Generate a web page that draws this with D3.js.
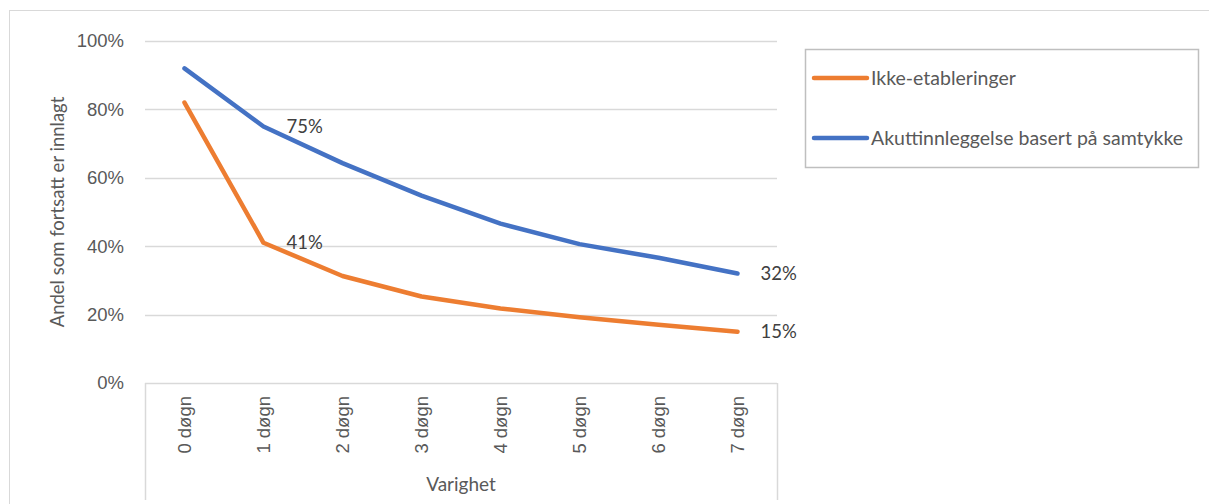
<!DOCTYPE html>
<html>
<head>
<meta charset="utf-8">
<script src="https://cdn.jsdelivr.net/npm/d3@7"></script>
<style>
  html, body { margin: 0; padding: 0; background: #fff; }
  svg { display: block; font-family: Lato, "Open Sans", sans-serif; }
</style>
</head>
<body>
<svg id="chart" width="1209" height="504"></svg>
<script>
// Kategorier og verdier (andel som fortsatt er innlagt)
const categories = ["0 døgn", "1 døgn", "2 døgn", "3 døgn", "4 døgn", "5 døgn", "6 døgn", "7 døgn"];
const ikkeEtableringer = [0.82, 0.41, 0.313, 0.253, 0.218, 0.192, 0.17, 0.15];
const akuttSamtykke = [0.92, 0.75, 0.643, 0.548, 0.466, 0.406, 0.366, 0.32];
const yTicks = [0, 0.2, 0.4, 0.6, 0.8, 1.0];
const seriesNames = ["Ikke-etableringer", "Akuttinnleggelse basert på samtykke"];
const seriesColors = ["#ED7D31", "#4472C4"];
// Indekser med dataetiketter
const labelled = [1, 7];

const svg = d3.select("#chart");
const textColor = "#595959";
const gridColor = "#D9D9D9";
const fs = "18.5px";

// Ytre ramme
svg.append("rect")
  .attr("x", 9.5).attr("y", 10.5)
  .attr("width", 1230).attr("height", 520)
  .attr("fill", "none").attr("stroke", gridColor).attr("stroke-width", 1);

const plot = { left: 145, right: 777, top: 41, bottom: 383 };

const x = d3.scaleBand().domain(categories).range([plot.left, plot.right]);
const y = d3.scaleLinear().domain([0, 1]).range([plot.bottom, plot.top]);
const cx = c => x(c) + x.bandwidth() / 2;

// Rutenett og y-akse
const yAxis = d3.axisLeft(y).tickValues(yTicks).tickFormat(d3.format(".0%")).tickSize(0).tickPadding(21);
const gy = svg.append("g").attr("transform", `translate(${plot.left},0)`).call(yAxis);
gy.select(".domain").remove();
gy.selectAll("text").attr("fill", textColor).style("font-size", fs);
svg.append("g").selectAll("line").data(yTicks.filter(d => d > 0)).join("line")
  .attr("x1", plot.left).attr("x2", plot.right)
  .attr("y1", d => Math.round(y(d)) + 0.5).attr("y2", d => Math.round(y(d)) + 0.5)
  .attr("stroke", gridColor).attr("stroke-width", 1.5);

// X-akse med kategoriboks
const xAxis = d3.axisBottom(x).tickSize(0).tickPadding(0);
const gx = svg.append("g").attr("transform", `translate(0,${plot.bottom})`).call(xAxis);
gx.select(".domain").remove();
gx.selectAll("text")
  .attr("transform", "rotate(-90)")
  .attr("x", -13).attr("y", 0).attr("dy", "0.35em")
  .attr("text-anchor", "end")
  .attr("fill", textColor).style("font-size", fs);
svg.append("line")
  .attr("x1", plot.left).attr("x2", plot.right)
  .attr("y1", plot.bottom + 0.5).attr("y2", plot.bottom + 0.5)
  .attr("stroke", gridColor).attr("stroke-width", 1.5);
[plot.left, plot.right].forEach(px => {
  svg.append("line")
    .attr("x1", px + 0.5).attr("x2", px + 0.5)
    .attr("y1", plot.bottom).attr("y2", 500)
    .attr("stroke", gridColor).attr("stroke-width", 1.5);
});

// Aksetitler
svg.append("text")
  .attr("transform", `translate(64,${(plot.top + plot.bottom) / 2}) rotate(-90)`)
  .attr("text-anchor", "middle")
  .attr("fill", textColor).style("font-size", fs)
  .text("Andel som fortsatt er innlagt");
svg.append("text")
  .attr("x", (plot.left + plot.right) / 2).attr("y", 491)
  .attr("text-anchor", "middle")
  .attr("fill", textColor).style("font-size", "19px")
  .text("Varighet");

// Linjer
const line = d3.line().x((d, i) => cx(categories[i])).y(d => y(d));
[ikkeEtableringer, akuttSamtykke].forEach((vals, s) => {
  svg.append("path").datum(vals)
    .attr("d", line)
    .attr("fill", "none")
    .attr("stroke", seriesColors[s])
    .attr("stroke-width", 4.5)
    .attr("stroke-linecap", "round")
    .attr("stroke-linejoin", "round");
  svg.append("g").selectAll("text").data(labelled).join("text")
    .attr("x", i => cx(categories[i]) + 23)
    .attr("y", i => y(vals[i]))
    .attr("dy", "0.35em")
    .attr("fill", "#404040").style("font-size", fs)
    .text(i => d3.format(".0%")(vals[i]));
});

// Forklaring
const lg = svg.append("g");
lg.append("rect")
  .attr("x", 805.5).attr("y", 49.5).attr("width", 393).attr("height", 118)
  .attr("fill", "#fff").attr("stroke", "#BFBFBF").attr("stroke-width", 1.5);
seriesNames.forEach((name, i) => {
  const ly = 78 + i * 60;
  lg.append("line")
    .attr("x1", 814).attr("x2", 867).attr("y1", ly).attr("y2", ly)
    .attr("stroke", seriesColors[i]).attr("stroke-width", 4.5).attr("stroke-linecap", "round");
  lg.append("text")
    .attr("x", 871).attr("y", ly).attr("dy", "0.35em")
    .attr("fill", textColor).style("font-size", "19.5px")
    .text(name);
});
</script>
</body>
</html>
